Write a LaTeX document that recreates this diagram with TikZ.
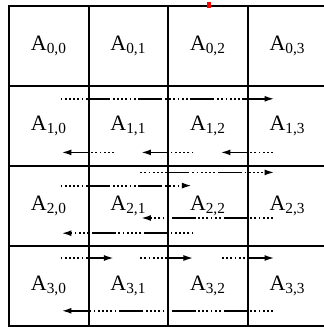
\documentclass[tikz,border=0pt]{standalone}
\usepackage{fontspec}
\setmainfont{Liberation Serif}
\usetikzlibrary{arrows.meta}

\begin{document}
\begin{tikzpicture}[x=79.5bp, y=-80bp,
    every node/.style={font=\fontsize{22}{26}\selectfont},
    cell/.style={draw, line width=2bp, minimum width=79.5bp,
                 minimum height=80bp, inner sep=0pt},
    arr/.style={-{Latex[length=10bp,width=6bp]}, line width=1.8bp,
                dash pattern=on 1.8bp off 2.4bp on 1.8bp off 2.4bp
                  on 1.8bp off 2.4bp on 1.8bp off 2.4bp on 1.8bp off 2.4bp
                  on 1.8bp off 2.4bp on 24bp off 3bp},
]
\useasboundingbox (-0.1132,-0.075) rectangle (3.9623,4.0125);

%% Cells
\foreach \r in {0,...,3}
  \foreach \c in {0,...,3}
    \node[cell] (c-\r-\c) at (\c+0.5,\r+0.5) {\raisebox{4bp}{A\textsubscript{\r,\c}}};

%% Mark on the top edge
\node[fill=red, inner sep=0pt, minimum width=4bp, minimum height=6bp] (mark) at (2.516,-0.01) {};

%% Arrows, row 1
\draw[arr] ([shift={(0.15,-0.34)}]c-1-0.center) -- ([shift={(-0.16,-0.34)}]c-1-3.center);
\draw[arr] ([shift={(-0.18,0.33)}]c-1-1.center) -- ([shift={(0.16,0.33)}]c-1-0.center);
\draw[arr] ([shift={(-0.18,0.33)}]c-1-2.center) -- ([shift={(0.16,0.33)}]c-1-1.center);
\draw[arr] ([shift={(-0.18,0.33)}]c-1-3.center) -- ([shift={(0.16,0.33)}]c-1-2.center);

%% Arrows, row 2
\draw[arr] ([shift={(0.15,-0.42)}]c-2-1.center) -- ([shift={(-0.16,-0.42)}]c-2-3.center);
\draw[arr] ([shift={(0.15,-0.255)}]c-2-0.center) -- ([shift={(-0.2,-0.255)}]c-2-2.center);
\draw[arr] ([shift={(-0.18,0.15)}]c-2-3.center) -- ([shift={(0.16,0.15)}]c-2-1.center);
\draw[arr] ([shift={(-0.18,0.34)}]c-2-2.center) -- ([shift={(0.16,0.34)}]c-2-0.center);

%% Arrows, row 3
\draw[arr] ([shift={(0.15,-0.35)}]c-3-0.center) -- ([shift={(-0.18,-0.35)}]c-3-1.center);
\draw[arr] ([shift={(0.15,-0.35)}]c-3-1.center) -- ([shift={(-0.18,-0.35)}]c-3-2.center);
\draw[arr] ([shift={(0.18,-0.35)}]c-3-2.center) -- ([shift={(-0.16,-0.35)}]c-3-3.center);
\draw[arr] ([shift={(-0.18,0.31)}]c-3-3.center) -- ([shift={(0.16,0.31)}]c-3-0.center);

\end{tikzpicture}
\end{document}
